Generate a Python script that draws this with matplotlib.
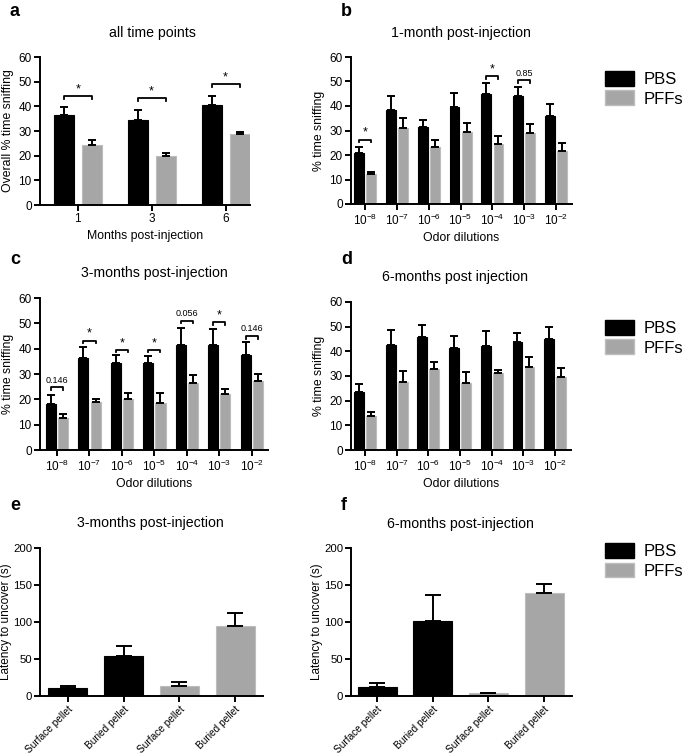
import numpy as np
import matplotlib
matplotlib.use("Agg")
import matplotlib.pyplot as plt
from matplotlib.patches import Patch

plt.rcParams['font.family'] = ['Liberation Sans', 'DejaVu Sans']
plt.rcParams['mathtext.default'] = 'regular'

# panel a: all time points
months = ['1', '3', '6']
a_pbs = [36.5, 34.5, 40.5]
a_pbs_err = [3.2, 4.2, 3.5]
a_pff = [24.5, 19.7, 28.7]
a_pff_err = [1.8, 1.5, 0.7]
a_sig = [(0, 44.0, '*'), (1, 43.3, '*'), (2, 49.0, '*')]

# odor dilutions
dilutions = [r'$10^{-8}$', r'$10^{-7}$', r'$10^{-6}$', r'$10^{-5}$',
             r'$10^{-4}$', r'$10^{-3}$', r'$10^{-2}$']

# panel b: 1 month
b_pbs = [21.0, 38.4, 31.6, 39.5, 45.0, 44.1, 35.8]
b_pbs_err = [2.3, 5.6, 2.6, 5.8, 4.3, 3.7, 5.2]
b_pff = [12.1, 31.0, 23.2, 29.3, 24.3, 29.0, 21.6]
b_pff_err = [1.1, 3.9, 3.1, 3.9, 3.4, 3.7, 3.1]
b_sig = [(0, 26.3, '*'), (4, 52.2, '*'), (5, 50.5, '0.85')]

# panel c: 3 months
c_pbs = [18.0, 36.4, 34.5, 34.2, 41.4, 41.6, 37.5]
c_pbs_err = [3.7, 4.1, 2.9, 3.0, 6.8, 6.0, 5.0]
c_pff = [12.5, 18.9, 20.0, 18.4, 26.3, 22.0, 27.4]
c_pff_err = [1.6, 1.2, 2.6, 4.2, 3.3, 2.0, 2.5]
c_sig = [(0, 24.7, '0.146'), (1, 43.2, '*'), (2, 39.5, '*'), (3, 39.5, '*'),
         (4, 51.0, '0.056'), (5, 50.4, '*'), (6, 45.0, '0.146')]

# panel d: 6 months
d_pbs = [23.6, 42.7, 46.0, 41.5, 42.3, 43.6, 45.0]
d_pbs_err = [3.1, 5.9, 4.5, 4.9, 6.0, 3.9, 4.7]
d_pff = [13.8, 27.7, 33.0, 27.1, 31.2, 33.6, 29.7]
d_pff_err = [1.8, 4.2, 2.8, 4.4, 1.1, 4.3, 3.4]

# panels e, f: buried pellet test
pellets = ['Surface pellet', 'Buried pellet', 'Surface pellet', 'Buried pellet']
pellet_group = ['PBS', 'PBS', 'PFFs', 'PFFs']
e_vals = [10.5, 53.5, 13.5, 94.5]
e_err = [2.8, 13.5, 5.5, 18.0]
f_vals = [11.5, 101.5, 3.5, 139.0]
f_err = [5.5, 35.0, 1.2, 12.0]

BLACK = '#000000'
GREY = '#a6a6a6'
W, H = 685, 755
LAB = 8.8


def add_axes(x0, y0, x1, y1):
    return fig.add_axes([x0 / W, 1 - y1 / H, (x1 - x0) / W, (y1 - y0) / H])


def style(ax):
    for s in ['top', 'right']:
        ax.spines[s].set_visible(False)
    for s in ['left', 'bottom']:
        ax.spines[s].set_linewidth(1.4)
    ax.tick_params(width=1.4, length=4, labelsize=8.5, direction='out', pad=2)


def grouped(ax, pbs, pbs_err, pff, pff_err, width, off):
    x = np.arange(len(pbs))
    ax.bar(x - off, pbs, width, color=BLACK, edgecolor=BLACK, linewidth=0.8)
    ax.bar(x + off, pff, width, color=GREY, edgecolor='#bdbdbd', linewidth=0.8)
    ax.errorbar(x - off, pbs, yerr=[np.zeros(len(x)), pbs_err], fmt='none',
                ecolor=BLACK, elinewidth=1.4, capsize=3, capthick=1.4)
    ax.errorbar(x + off, pff, yerr=[np.zeros(len(x)), pff_err], fmt='none',
                ecolor=BLACK, elinewidth=1.4, capsize=3, capthick=1.4)
    return x


def brackets(ax, sig, off, drop=1.2):
    for i, y, lab in sig:
        ax.plot([i - off, i - off, i + off, i + off], [y - drop, y, y, y - drop],
                color=BLACK, lw=1.3)
        if lab == '*':
            ax.text(i, y + 0.3, lab, ha='center', va='bottom', fontsize=9)
        else:
            ax.text(i, y + 1.0, lab, ha='center', va='bottom', fontsize=6.5)


fig = plt.figure(figsize=(6.85, 7.55), dpi=100)

# a
ax = add_axes(40, 57, 250, 205)
x = grouped(ax, a_pbs, a_pbs_err, a_pff, a_pff_err, 0.27, 0.19)
brackets(ax, a_sig, 0.19)
ax.set_xticks(x)
ax.set_xticklabels(months)
ax.set_xlim(-0.51, 2.33)
ax.set_ylim(0, 60)
ax.set_yticks(range(0, 61, 10))
ax.set_xlabel('Months post-injection', fontsize=LAB, labelpad=3)
ax.set_ylabel('Overall % time sniffing', fontsize=LAB, labelpad=3)
style(ax)
fig.text(152 / W, 1 - 33 / H, 'all time points', ha='center', va='center', fontsize=10.2)

panels = [
    ((351, 57, 572, 204), b_pbs, b_pbs_err, b_pff, b_pff_err, b_sig, (461, 33), '1-month post-injection', -0.44),
    ((40, 298, 268, 450), c_pbs, c_pbs_err, c_pff, c_pff_err, c_sig, (154, 273), '3-months post-injection', -0.52),
    ((351, 302, 571, 450), d_pbs, d_pbs_err, d_pff, d_pff_err, [], (455, 277), '6-months post injection', -0.44),
]
for box, pbs, pe, pff, fe, sig, tpos, title, xl in panels:
    ax = add_axes(*box)
    x = grouped(ax, pbs, pe, pff, fe, 0.31, 0.19)
    brackets(ax, sig, 0.19, drop=1.0)
    ax.set_xticks(x)
    ax.set_xticklabels(dilutions)
    ax.set_xlim(xl, 6.5)
    ax.set_ylim(0, 60)
    ax.set_yticks(range(0, 61, 10))
    ax.set_xlabel('Odor dilutions', fontsize=LAB, labelpad=3)
    ax.set_ylabel('% time sniffing', fontsize=LAB, labelpad=3)
    style(ax)
    fig.text(tpos[0] / W, 1 - tpos[1] / H, title, ha='center', va='center', fontsize=10.2)

for box, vals, err, tpos, title, xl in [
        ((40, 548, 263, 696), e_vals, e_err, (150, 523), '3-months post-injection', -0.5),
        ((351, 548, 572, 696), f_vals, f_err, (460, 524), '6-months post-injection', -0.47)]:
    ax = add_axes(*box)
    x = np.arange(len(vals))
    cols = [BLACK if g == 'PBS' else GREY for g in pellet_group]
    edges = [BLACK if g == 'PBS' else '#bdbdbd' for g in pellet_group]
    ax.bar(x, vals, 0.7, color=cols, edgecolor=edges, linewidth=0.8)
    ax.errorbar(x, vals, yerr=[np.zeros(len(x)), err], fmt='none', ecolor=BLACK,
                elinewidth=1.4, capsize=6, capthick=1.4)
    ax.set_xticks(x)
    ax.set_xlim(xl, 3.5)
    ax.set_ylim(0, 200)
    ax.set_yticks(range(0, 201, 50))
    ax.set_ylabel('Latency to uncover (s)', fontsize=8.5, labelpad=1)
    style(ax)
    ax.tick_params(axis='y', labelsize=8.2, pad=1.5)
    ax.set_xticklabels(pellets, rotation=45, ha='right', rotation_mode='anchor', fontsize=7.3)
    fig.text(tpos[0] / W, 1 - tpos[1] / H, title, ha='center', va='center', fontsize=10.2)

# legends on the right
handles = [Patch(facecolor=BLACK, edgecolor=BLACK), Patch(facecolor=GREY, edgecolor='#bdbdbd')]
for ypx in [71, 320, 543]:
    fig.legend(handles, ['PBS', 'PFFs'], loc='upper left',
               bbox_to_anchor=(605 / W, 1 - ypx / H), frameon=False, fontsize=12,
               handlelength=1.75, handleheight=1.0, handletextpad=0.55,
               labelspacing=0.2, borderaxespad=0, borderpad=0)

# panel letters
for lab, xp, yp in [('a', 10, 12), ('b', 341, 12), ('c', 10, 260),
                    ('d', 341, 260), ('e', 10, 506), ('f', 341, 506)]:
    fig.text(xp / W, 1 - yp / H, lab, fontsize=13, fontweight='bold', ha='left', va='center')

fig.savefig('out.png', dpi=100)
